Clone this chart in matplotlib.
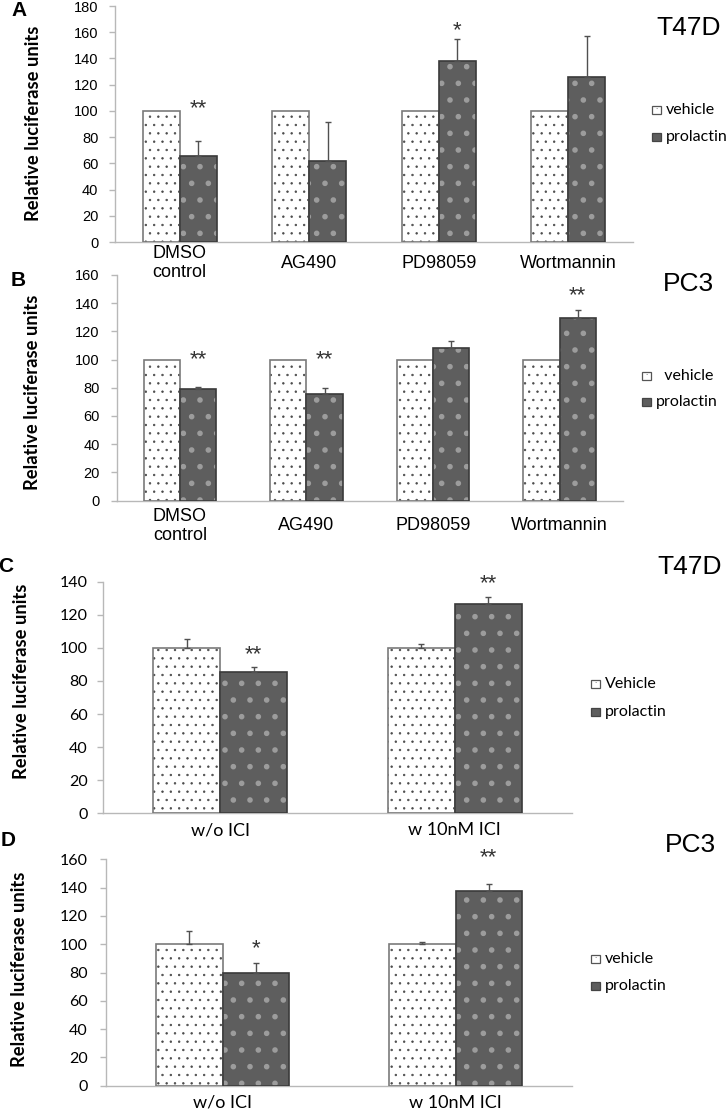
import numpy as np
import matplotlib
matplotlib.use("Agg")
import matplotlib.pyplot as plt
from matplotlib import transforms
from matplotlib.patches import Rectangle

# ---------------- data ----------------
catsAB = ['DMSO\ncontrol', 'AG490', 'PD98059', 'Wortmannin']
A_vehicle = [100, 100, 100, 100]
A_prolactin = [65.5, 62, 138, 126]
A_prolactin_err = [11.5, 29.5, 16.5, 31.5]
A_stars = ['**', '', '*', '']
A_star_y = [102, 0, 161, 0]

B_vehicle = [100, 100, 100, 100]
B_prolactin = [79, 75.3, 108.5, 129.8]
B_prolactin_err = [1.2, 4.2, 5.0, 5.3]
B_stars = ['**', '**', '', '**']
B_star_y = [100, 100, 0, 145]

catsCD = ['w/o ICI', 'w 10nM ICI']
C_vehicle = [100, 100]
C_vehicle_err = [5.4, 2.2]
C_prolactin = [85.4, 126.4]
C_prolactin_err = [3.2, 4.6]
C_stars = ['**', '**']
C_star_y = [96, 139]

D_vehicle = [100, 100]
D_vehicle_err = [9.6, 1.8]
D_prolactin = [79.4, 137.6]
D_prolactin_err = [7.1, 4.9]
D_stars = ['*', '**']
D_star_y = [97, 161]

# ---------------- style ----------------
W, H = 727, 1111
ARIAL = ['Liberation Sans', 'DejaVu Sans']
CALI = ['Lato', 'DejaVu Sans']
VEH_FACE, VEH_HATCH, VEH_EDGE = 'white', '#4a4a4a', '#7a7a7a'
PRO_FACE, PRO_HATCH, PRO_EDGE = '#5e5e5e', '#9c9c9c', '#3a3a3a'
SPINE = '#b8b8b8'
ERRC = '#505050'
BW = 0.286

fig = plt.figure(figsize=(W / 100, H / 100), dpi=100)


def px_axes(left, right, y0, ytop):
    return fig.add_axes([left / W, 1 - y0 / H, (right - left) / W, (y0 - ytop) / H])


def draw_panel(ax, cats, veh, pro, pro_err, veh_err, stars, star_y, ymax,
               tickfont, tickfs, tickpad, label_center_px, xlabfont, xlabfs):
    n = len(cats)
    x = np.arange(n)
    xv, xp = x - BW / 2, x + BW / 2
    with plt.rc_context({'hatch.linewidth': 0.5}):
        ax.bar(xv, veh, BW, color=VEH_FACE, edgecolor=VEH_HATCH, hatch='..', linewidth=0, zorder=2)
    ax.bar(xv, veh, BW, fill=False, edgecolor=VEH_EDGE, linewidth=1.2, zorder=3)
    with plt.rc_context({'hatch.linewidth': 1.6}):
        ax.bar(xp, pro, BW, color=PRO_FACE, edgecolor=PRO_HATCH, hatch='.', linewidth=0, zorder=2)
    ax.bar(xp, pro, BW, fill=False, edgecolor=PRO_EDGE, linewidth=1.2, zorder=3)
    if veh_err is not None:
        ax.errorbar(xv, veh, yerr=[np.zeros(n), veh_err], fmt='none', ecolor=ERRC,
                    elinewidth=1, capsize=2.5, capthick=1, zorder=4)
    ax.errorbar(xp, pro, yerr=[np.zeros(n), pro_err], fmt='none', ecolor=ERRC,
                elinewidth=1, capsize=2.5, capthick=1, zorder=4)
    for xi, s, sy in zip(xp, stars, star_y):
        if s:
            ax.text(xi, sy, s, ha='center', va='center', fontsize=16,
                    family=ARIAL, color='#333333')
    ax.set_xlim(-0.5, n - 0.5)
    ax.set_ylim(0, ymax)
    ax.set_yticks(np.arange(0, ymax + 1, 20))
    ax.tick_params(axis='y', length=4, width=1, color=SPINE, pad=tickpad,
                   labelsize=tickfs, labelcolor='black')
    for lab in ax.get_yticklabels():
        lab.set_family(tickfont)
    ax.set_xticks([])
    for sp in ['top', 'right']:
        ax.spines[sp].set_visible(False)
    for sp in ['left', 'bottom']:
        ax.spines[sp].set_color(SPINE)
        ax.spines[sp].set_linewidth(1)
    ax.patch.set_alpha(0)
    tr = transforms.blended_transform_factory(ax.transData, fig.transFigure)
    for xi, c in zip(x, cats):
        ax.text(xi, 1 - label_center_px / H, c, transform=tr, ha='center',
                va='center', fontsize=xlabfs, family=xlabfont, linespacing=1.15)


def legend(xsq, y1, y2, xtext, labels, sq=8.5):
    for (yy, face, ec, lab) in [
        (y1, VEH_FACE, '#555555', labels[0]),
        (y2, PRO_FACE, '#444444', labels[1])]:
        r = Rectangle((xsq / W, 1 - (yy + sq / 2) / H), sq / W, sq / H,
                      transform=fig.transFigure, facecolor=face, edgecolor=ec,
                      linewidth=0.9)
        fig.patches.append(r)
        if face == VEH_FACE:
            fig.text((xsq + sq / 2) / W, 1 - yy / H, '.', ha='center', va='bottom',
                     fontsize=5, color='#444444')
        fig.text(xtext / W, 1 - yy / H, lab, ha='left', va='center',
                 fontsize=11.5, family=CALI)


def ylabel(xc, yc):
    fig.text(xc / W, 1 - yc / H, 'Relative luciferase units', rotation=90,
             ha='center', va='center', fontsize=13.2, fontweight='bold', family=CALI)


def letter(xc, yc, s):
    fig.text(xc / W, 1 - yc / H, s, fontsize=15, fontweight='bold', family=ARIAL,
             ha='center', va='center')


# ---------------- Panel A ----------------
axA = px_axes(115, 633, 242, 6)
draw_panel(axA, catsAB, A_vehicle, A_prolactin, A_prolactin_err, None, A_stars,
           A_star_y, 180, ARIAL, 10.5, 8, 263, ARIAL, 13)
ylabel(33.5, 123)
letter(19, 11, 'A')
fig.text(689 / W, 1 - 28 / H, 'T47D', fontsize=19, family=ARIAL, ha='center', va='center')
legend(652, 110, 137, 666, ['vehicle', 'prolactin'])

# ---------------- Panel B ----------------
axB = px_axes(116.5, 623, 500.5, 275)
draw_panel(axB, catsAB, B_vehicle, B_prolactin, B_prolactin_err, None, B_stars,
           B_star_y, 160, ARIAL, 10.5, 8, 526, ARIAL, 13)
ylabel(33, 392)
letter(18, 281, 'B')
fig.text(688 / W, 1 - 284 / H, 'PC3', fontsize=19, family=ARIAL, ha='center', va='center')
legend(642, 376, 402, 656, ['  vehicle', 'prolactin'])

# ---------------- Panel C ----------------
axC = px_axes(103, 572, 813.3, 581.7)
draw_panel(axC, catsCD, C_vehicle, C_prolactin, C_prolactin_err, C_vehicle_err, C_stars,
           C_star_y, 140, CALI, 11.5, 7, 830, CALI, 13)
ylabel(22, 681)
letter(6, 566, 'C')
fig.text(690 / W, 1 - 567 / H, 'T47D', fontsize=19, family=ARIAL, ha='center', va='center')
legend(591, 684, 712, 605, ['Vehicle', 'prolactin'])

# ---------------- Panel D ----------------
axD = px_axes(106, 572, 1085.7, 859.3)
draw_panel(axD, catsCD, D_vehicle, D_prolactin, D_prolactin_err, D_vehicle_err, D_stars,
           D_star_y, 160, CALI, 11.5, 9, 1103, CALI, 13)
ylabel(20, 969)
letter(8, 840, 'D')
fig.text(690 / W, 1 - 845 / H, 'PC3', fontsize=19, family=ARIAL, ha='center', va='center')
legend(591, 959, 986, 605, ['vehicle', 'prolactin'])

fig.savefig('out.png', dpi=100)
